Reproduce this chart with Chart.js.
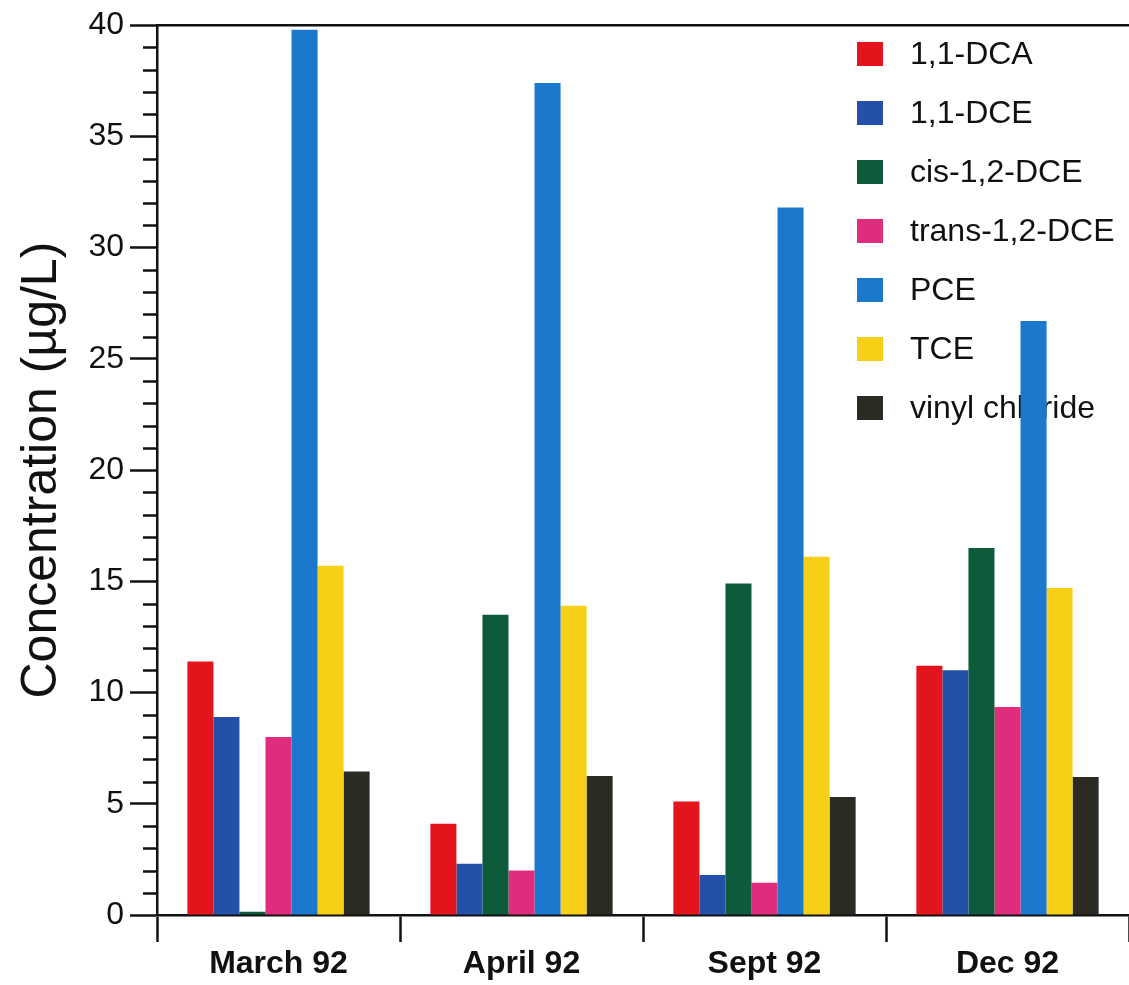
<!DOCTYPE html>
<html>
<head>
<meta charset="utf-8">
<script src="https://cdn.jsdelivr.net/npm/chart.js@4"></script>
<style>
  html, body { margin: 0; padding: 0; background: #fff; }
  #wrap { width: 1129px; height: 985px; position: relative; }
</style>
</head>
<body>
<div id="wrap"><canvas id="c" width="1129" height="985"></canvas></div>
<script>
const categories = ['March 92', 'April 92', 'Sept 92', 'Dec 92'];
const seriesNames = ['1,1-DCA', '1,1-DCE', 'cis-1,2-DCE', 'trans-1,2-DCE', 'PCE', 'TCE', 'vinyl chloride'];
const dca   = [11.4, 4.1, 5.1, 11.2];
const dce   = [8.9, 2.3, 1.8, 11.0];
const cis   = [0.15, 13.5, 14.9, 16.5];
const trans = [8.0, 2.0, 1.45, 9.35];
const pce   = [39.8, 37.4, 31.8, 26.7];
const tce   = [15.7, 13.9, 16.1, 14.7];
const vc    = [6.45, 6.25, 5.3, 6.2];
const yTicks = [0, 5, 10, 15, 20, 25, 30, 35, 40];

const colors = ['#e4141c', '#2550a8', '#0e5b3c', '#e02c7c', '#1c78cc', '#f7cf17', '#2b2b24'];
const seriesData = [dca, dce, cis, trans, pce, tce, vc];
const INK = '#111';
const FONT = '"Liberation Sans", Arial, sans-serif';

const extras = {
  id: 'extras',
  beforeDatasetsDraw(chart) {
    const ctx = chart.ctx;
    ctx.save();
    ctx.font = '32px ' + FONT;
    ctx.textBaseline = 'middle';
    ctx.textAlign = 'left';
    chart.data.datasets.forEach((ds, i) => {
      const cy = 54 + i * 59;
      ctx.fillStyle = ds.backgroundColor;
      ctx.fillRect(857, cy - 12, 26, 24);
      ctx.fillStyle = INK;
      ctx.fillText(ds.label, 910, cy + 1);
    });
    ctx.restore();
  },
  afterDraw(chart) {
    const ctx = chart.ctx;
    const y = chart.scales.y;
    const a = chart.chartArea;
    ctx.save();
    ctx.strokeStyle = INK;
    ctx.lineWidth = 2.5;
    for (let v = Math.ceil(y.min); v <= y.max; v++) {
      if (v % 5 === 0) continue;
      const py = Math.round(y.getPixelForValue(v)) + 0.5;
      ctx.beginPath();
      ctx.moveTo(a.left - 14, py);
      ctx.lineTo(a.left, py);
      ctx.stroke();
    }
    const ty = y.getPixelForValue(y.max);
    ctx.beginPath();
    ctx.moveTo(a.left, ty);
    ctx.lineTo(chart.width, ty);
    ctx.stroke();
    ctx.restore();
  }
};

new Chart(document.getElementById('c'), {
  type: 'bar',
  data: {
    labels: categories,
    datasets: seriesNames.map((name, i) => ({
      label: name,
      data: seriesData[i],
      backgroundColor: colors[i],
      borderWidth: 0,
      categoryPercentage: 0.75,
      barPercentage: 1.0
    }))
  },
  options: {
    responsive: false,
    animation: false,
    layout: { padding: { top: 24, right: 0, left: 0, bottom: 0 } },
    plugins: {
      legend: { display: false },
      tooltip: { enabled: false }
    },
    scales: {
      x: {
        afterFit: s => { s.height = 70; },
        grid: { offset: true, drawOnChartArea: false, drawTicks: true, tickLength: 27, tickWidth: 2.5, tickColor: INK },
        border: { display: true, color: INK, width: 2.5 },
        ticks: { color: INK, padding: 3, font: { family: FONT, size: 32, weight: 'bold' } }
      },
      y: {
        min: 0, max: 40,
        afterFit: s => { s.width = 157; },
        afterBuildTicks: s => { s.ticks = yTicks.map(v => ({ value: v })); },
        grid: { drawOnChartArea: false, drawTicks: true, tickLength: 27, tickWidth: 2.5, tickColor: INK },
        border: { display: true, color: INK, width: 2.5 },
        ticks: { color: INK, padding: 6, font: { family: FONT, size: 32 } },
        title: {
          display: true,
          text: 'Concentration (µg/L)',
          color: INK,
          padding: { top: 12, bottom: 0 },
          font: { family: FONT, size: 50 }
        }
      }
    }
  },
  plugins: [extras]
});
</script>
</body>
</html>
